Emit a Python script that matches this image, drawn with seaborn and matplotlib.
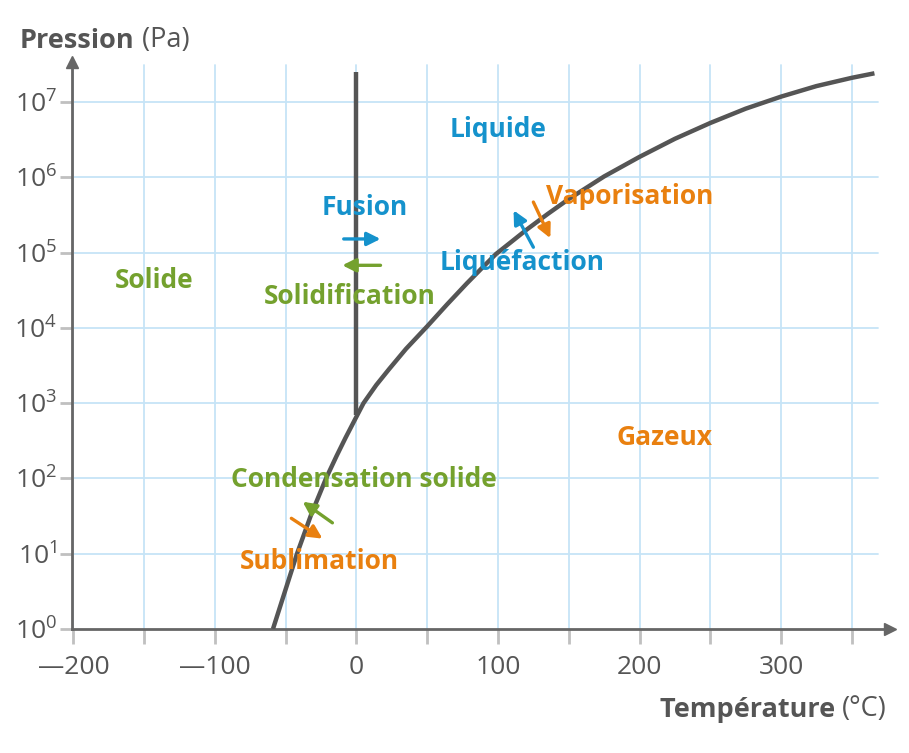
import numpy as np
import matplotlib
matplotlib.use("Agg")
import matplotlib.pyplot as plt
import seaborn as sns

# courbe de changement d'état (solide/gaz puis liquide/gaz)
curve_T = [-59, -50, -42, -32, -21.5, -14, -7.7, 0, 5, 14, 23, 35, 50, 64, 78, 89,
           98.6, 110, 120, 135, 150, 175, 200, 225, 250, 275, 300, 325, 350, 366]
curve_logP = [0.0, 0.53, 1.0, 1.52, 2.0, 2.3, 2.54, 2.82, 3.0, 3.24, 3.45, 3.72,
              4.02, 4.31, 4.59, 4.80, 4.98, 5.15, 5.30, 5.51, 5.71, 6.01, 6.27,
              6.51, 6.72, 6.91, 7.07, 7.21, 7.32, 7.38]

# ligne solide/liquide
fusion_T = [0, 0]
fusion_logP = [2.84, 7.40]

x_ticks = [-200, -150, -100, -50, 0, 50, 100, 150, 200, 250, 300, 350]
x_labels = ['—200', '', '—100', '', '0', '', '100', '', '200', '', '300', '']
y_decades = [0, 1, 2, 3, 4, 5, 6, 7]

blue = '#1592cc'
green = '#74a12e'
orange = '#e9800f'
dark = '#555555'

# textes : (texte, T, logP, couleur)
labels = [
    ('Liquide', 100, 6.63, blue),
    ('Fusion', 6, 5.60, blue),
    ('Vaporisation', 193, 5.74, orange),
    ('Liquéfaction', 117, 4.87, blue),
    ('Solide', -143, 4.63, green),
    ('Solidification', -5, 4.42, green),
    ('Gazeux', 218, 2.54, orange),
    ('Condensation solide', 5, 1.99, green),
    ('Sublimation', -26, 0.89, orange),
]

# flèches : (T départ, logP départ, T arrivée, logP arrivée, couleur)
arrows = [
    (-9, 5.18, 17, 5.18, blue),
    (17, 4.83, -10, 4.83, green),
    (125, 5.07, 111, 5.56, blue),
    (125, 5.67, 137, 5.19, orange),
    (-17, 1.41, -38, 1.69, green),
    (-46, 1.47, -24, 1.20, orange),
]

sns.set_style('white')
plt.rcParams['font.family'] = ['Open Sans', 'DejaVu Sans']
plt.rcParams['mathtext.fontset'] = 'custom'
plt.rcParams['mathtext.rm'] = 'Open Sans'
plt.rcParams['mathtext.it'] = 'Open Sans'

fig = plt.figure(figsize=(9.09, 7.53), dpi=100)
ax = fig.add_axes([72 / 909, 124 / 753, 818 / 909, 567 / 753])

ax.set_yscale('log')
ax.set_xlim(-201, 377)
ax.set_ylim(1, 10 ** 7.53)

# grille
for t in x_ticks:
    ax.axvline(t, ymax=0.995, color='#c6e4f7', lw=1.3, zorder=0)
for d in y_decades[1:]:
    ax.axhline(10 ** d, xmax=0.985, color='#c6e4f7', lw=1.3, zorder=0)

sns.lineplot(x=curve_T, y=[10 ** v for v in curve_logP], ax=ax, color=dark,
             lw=3.2, sort=False, estimator=None, solid_capstyle='butt',
             solid_joinstyle='round', zorder=3)
sns.lineplot(x=fusion_T, y=[10 ** v for v in fusion_logP], ax=ax, color=dark,
             lw=3.2, sort=False, estimator=None, solid_capstyle='butt', zorder=3)

for txt, t, lp, c in labels:
    ax.text(t, 10 ** lp, txt, color=c, fontsize=19, fontweight='bold',
            ha='center', va='center', zorder=5)

for t0, p0, t1, p1, c in arrows:
    ax.annotate('', xy=(t1, 10 ** p1), xytext=(t0, 10 ** p0),
                arrowprops=dict(arrowstyle='-|>', color=c, lw=2.4,
                                mutation_scale=20, shrinkA=0, shrinkB=0),
                zorder=6)

# axes
for s in ['top', 'right']:
    ax.spines[s].set_visible(False)
for s in ['left', 'bottom']:
    ax.spines[s].set_color('#666666')
    ax.spines[s].set_linewidth(2)
ax.plot(1, 0, '>', color='#666666', ms=9, transform=ax.transAxes, clip_on=False)
ax.plot(0, 1, '^', color='#666666', ms=9, transform=ax.transAxes, clip_on=False)

ax.set_xticks(x_ticks)
ax.set_xticklabels(x_labels)
ax.set_yticks([10 ** d for d in y_decades])
ax.set_yticklabels(['$10^{%d}$' % d for d in y_decades])
ax.yaxis.set_minor_locator(matplotlib.ticker.NullLocator())
ax.tick_params(axis='x', bottom=True, length=11, width=2, color='#c0c0c0',
               labelsize=19, labelcolor=dark, pad=8)
ax.tick_params(axis='y', left=True, length=9, width=2, color='#c0c0c0',
               labelsize=19, labelcolor=dark, pad=2)

t1 = fig.text(20 / 909, 1 - 48 / 753, 'Pression', fontsize=19.5, fontweight='bold',
              color=dark, va='baseline', ha='left')
ax.annotate(' (Pa)', xy=(1, 0), xycoords=t1, fontsize=19.5, color=dark,
            va='bottom', ha='left')

t2 = fig.text(887 / 909, 1 - 716 / 753, '(°C)', fontsize=19.5, color=dark,
              va='baseline', ha='right')
ax.annotate('Température ', xy=(0, 0), xycoords=t2, fontsize=19.5, color=dark,
            fontweight='bold', va='bottom', ha='right')

fig.savefig('out.png', dpi=100)
